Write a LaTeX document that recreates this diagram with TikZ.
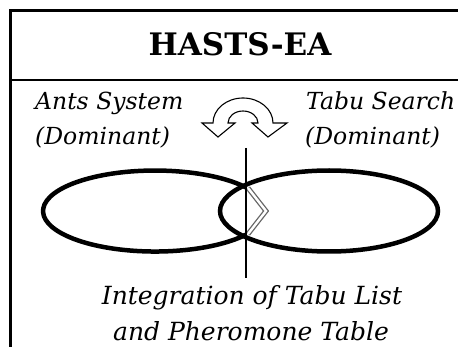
\documentclass[tikz,border=0pt]{standalone}
\usepackage{fontspec}
\setmainfont{DejaVu Serif}
\tikzset{
  lbl/.style={font=\fontsize{23.5}{28}\selectfont\itshape, inner sep=0pt},
  biglbl/.style={font=\fontsize{25}{30}\selectfont\itshape, inner sep=0pt},
  hdr/.style={font=\fontsize{31}{36}\selectfont\bfseries, inner sep=0pt},
}
\begin{document}
\begin{tikzpicture}[x=1pt,y=-1pt]
  \useasboundingbox (0,0) rectangle (458,347);
  % frame and header bar
  \draw[line width=3pt] (10,400) -- (10,11) -- (470,11);
  \draw[line width=2.5pt] (10,80) -- (470,80);
  \node[hdr] (title) at (240,44) {HASTS-EA};
  % the two methods
  \node[lbl, anchor=base west] (ants) at (35,110) {Ants System};
  \node[lbl, anchor=base west] (antsdom) at (35,145) {(Dominant)};
  \node[lbl, anchor=base west] (tabu) at (306,110) {Tabu Search};
  \node[lbl, anchor=base west] (tabudom) at (305,145) {(Dominant)};
  % exchange arrow
  \draw[fill=white, line width=1.1pt, line join=miter]
    (218,137) -- (235,123) -- (228,123)
    arc[start angle=180, end angle=0, x radius=15pt, y radius=12pt]
    -- (252,123) -- (268,137) -- (287,123) -- (273,123)
    arc[start angle=0, end angle=180, x radius=30pt, y radius=25pt]
    -- (202,123) -- cycle;
  % overlapping ellipses
  \draw[line width=4.5pt] (329,211) ellipse [x radius=109pt, y radius=40.5pt];
  \draw[line width=4.5pt] (246,187.4)
    arc[start angle=35.7, end angle=324.3, x radius=112pt, y radius=40.5pt];
  \draw[gray!80!black, line width=1.3pt, double=white, double distance=2.4pt]
    (248,188) -- (266,211) -- (248,234);
  \coordinate (cuttop) at (246,148);
  \coordinate (cutbot) at (246,278);
  \draw[line width=1.5pt] (cuttop) -- (cutbot);
  \node[biglbl, anchor=base] (integ) at (252,305) {Integration of Tabu List};
  \node[biglbl, anchor=base] (pher) at (251,341) {and Pheromone Table};
\end{tikzpicture}
\end{document}
